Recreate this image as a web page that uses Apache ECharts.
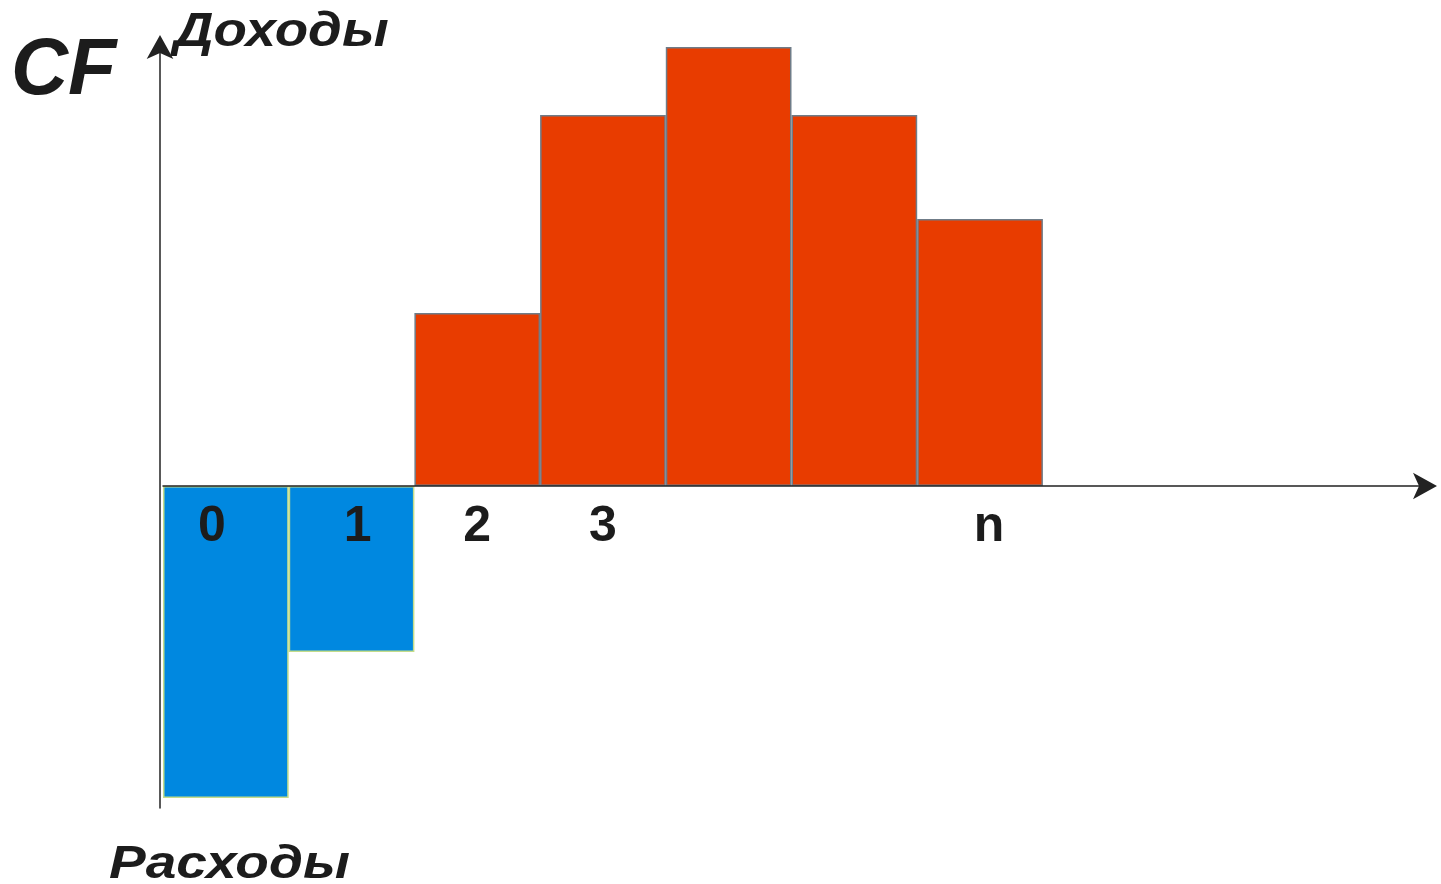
<!DOCTYPE html>
<html>
<head>
<meta charset="utf-8">
<script src="https://cdn.jsdelivr.net/npm/echarts@6/dist/echarts.min.js"></script>
<style>
  html, body { margin: 0; padding: 0; background: #ffffff; }
  #chart { width: 1441px; height: 884px; }
</style>
</head>
<body>
<div id="chart"></div>
<script>
// Periods on the time axis (only some are labelled)
const periods = ['0', '1', '2', '3', '', '', 'n', '', '', ''];
// Cash outflows (negative) and inflows (positive) per period
const outflows = [-312, -166, '-', '-', '-', '-', '-', '-', '-', '-'];
const inflows = ['-', '-', 173, 371, 439, 371, 267, '-', '-', '-'];
// Text around the axes
const yTitle = 'CF';
const upLabel = 'Доходы';
const downLabel = 'Расходы';

const font = '"Liberation Sans", Arial, sans-serif';
const ink = '#1c1c1c';

// Value range of the vertical axis
const yMin = -322;
const yMax = 440;

// Small horizontal nudges of individual period labels (px, + = right)
const labelNudge = { '0': -14, '1': 6, 'n': 9 };
const axisData = periods.map(function (p) {
  const d = labelNudge[p] || 0;
  return {
    value: p,
    textStyle: { padding: d >= 0 ? [0, 0, 0, 2 * d] : [0, -2 * d, 0, 0] }
  };
});

const chart = echarts.init(document.getElementById('chart'));

// Geometry of the plotting area
const grid = { left: 163, right: 21, top: 46, bottom: 76 };
const plotHeight = 884 - grid.top - grid.bottom;
// The time axis sits on the zero line of the value axis
const zeroOffset = -plotHeight * (0 - yMin) / (yMax - yMin);

function caption(text, x, y, size, stretch) {
  return {
    type: 'text',
    x: x,
    y: y,
    scaleX: stretch,
    style: {
      text: text,
      x: 0,
      y: 0,
      font: 'italic bold ' + size + 'px ' + font,
      fill: ink,
      align: 'left',
      verticalAlign: 'middle'
    }
  };
}

chart.setOption({
  animation: false,
  backgroundColor: '#ffffff',
  graphic: [
    caption(yTitle, 11, 72, 79, 1.0),
    caption(upLabel, 174, 33, 48, 1.14),
    caption(downLabel, 109, 865, 47, 1.17)
  ],
  grid: grid,
  xAxis: {
    type: 'category',
    data: axisData,
    boundaryGap: true,
    position: 'bottom',
    offset: zeroOffset,
    z: 3,
    axisLine: {
      show: true,
      onZero: false,
      symbol: ['none', 'arrow'],
      symbolSize: [20, 24],
      symbolOffset: [0, 17],
      lineStyle: { color: '#222222', width: 1.5 }
    },
    axisTick: { show: false },
    axisLabel: {
      interval: 0,
      margin: 16,
      fontFamily: font,
      fontSize: 50,
      fontWeight: 'bold',
      color: ink
    },
    splitLine: { show: false }
  },
  yAxis: {
    type: 'value',
    min: yMin,
    max: yMax,
    offset: 3,
    axisLine: {
      show: true,
      onZero: false,
      symbol: ['none', 'arrow'],
      symbolSize: [20, 24],
      symbolOffset: [0, 11],
      lineStyle: { color: '#222222', width: 1.5 }
    },
    axisTick: { show: false },
    axisLabel: { show: false },
    splitLine: { show: false }
  },
  series: [
    {
      name: downLabel,
      type: 'bar',
      stack: 'cf',
      barWidth: '100%',
      data: outflows,
      itemStyle: { color: '#0088e0', borderColor: '#c4dc8a', borderWidth: 1.5 }
    },
    {
      name: upLabel,
      type: 'bar',
      stack: 'cf',
      barWidth: '100%',
      data: inflows,
      itemStyle: { color: '#e83c00', borderColor: '#6f7c88', borderWidth: 1.5 }
    }
  ]
});
</script>
</body>
</html>
